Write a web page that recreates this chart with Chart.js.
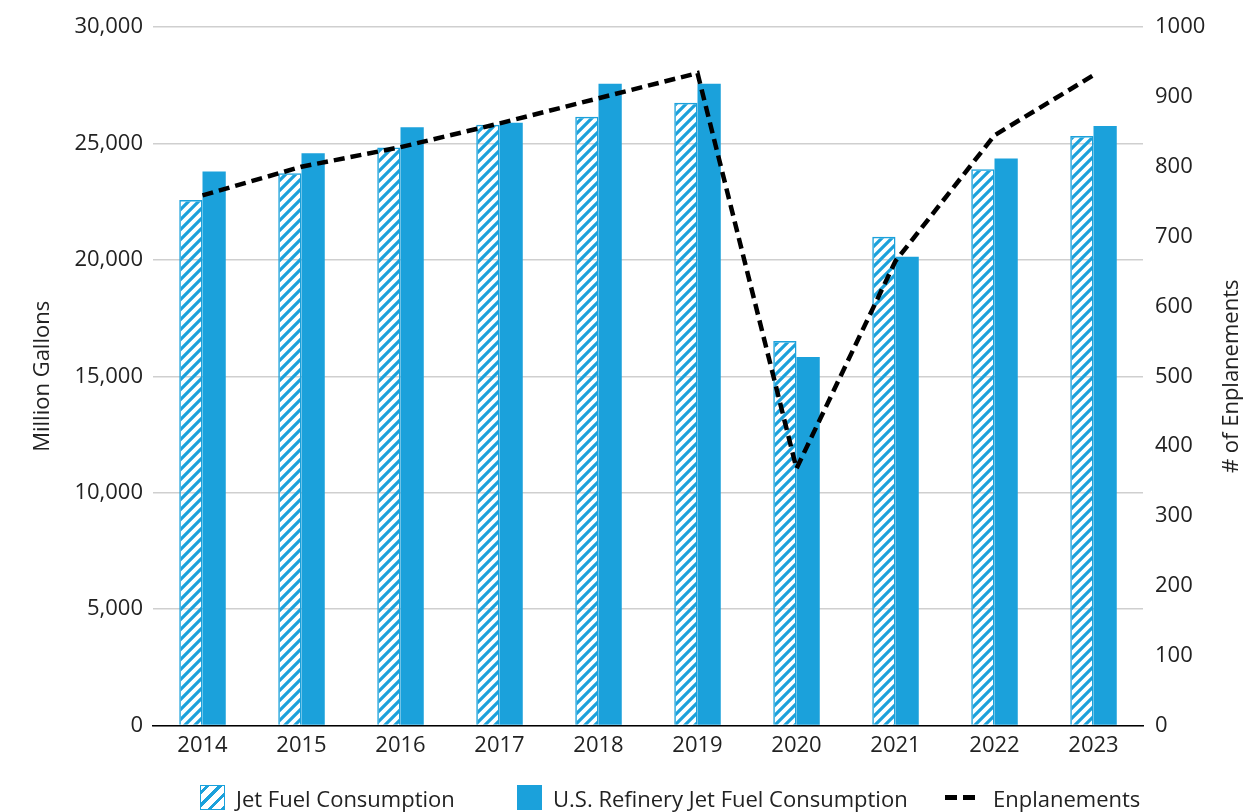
<!DOCTYPE html>
<html>
<head>
<meta charset="utf-8">
<script src="https://cdn.jsdelivr.net/npm/chart.js@4"></script>
<style>
  body { margin: 0; background: #fff; }
  #wrap { position: relative; width: 1248px; height: 812px; }
  #leyenda { position: absolute; left: 0; top: 784px; width: 1248px; height: 27px;
    font: 22px 'Open Sans', sans-serif; color: #222; }
  #leyenda .item { position: absolute; top: 0; height: 27px; display: flex; align-items: center; }
  #leyenda .caja { width: 25px; height: 25px; margin-right: 11px; box-sizing: border-box; }
  #leyenda .rayas { border: 1.5px solid #1ba1db;
    background: repeating-linear-gradient(135deg, #fff 0 3px, #1ba1db 3px 6px, #fff 6px 9px); }
  #leyenda .guion { width: 30px; height: 5px; margin-right: 18px;
    background: linear-gradient(90deg, #000 0 12px, transparent 12px 18px, #000 18px 30px); }
</style>
</head>
<body>
<div id="wrap">
  <canvas id="myChart" width="1248" height="812"></canvas>
  <div id="leyenda"></div>
</div>
<script>
const years = ["2014", "2015", "2016", "2017", "2018", "2019", "2020", "2021", "2022", "2023"];
const jetFuel = [22570, 23720, 24820, 25800, 26150, 26750, 16520, 20990, 23890, 25320];
const refineryJetFuel = [23790, 24580, 25700, 25890, 27560, 27560, 15830, 20130, 24350, 25750];
const enplanements = [759, 800, 828, 862, 898, 934, 368, 665, 845, 931];

const gallonTicks = [0, 5000, 10000, 15000, 20000, 25000, 30000];
const enplanementTicks = [0, 100, 200, 300, 400, 500, 600, 700, 800, 900, 1000];

const azul = "#1ba1db";
const fuente = "'Open Sans', sans-serif";
const tam = 22;

// rayado diagonal para la serie de consumo
const rayado = (() => {
  const c = document.createElement("canvas");
  c.width = 10;
  c.height = 10;
  const g = c.getContext("2d");
  g.strokeStyle = azul;
  g.lineWidth = 3.2;
  g.beginPath();
  g.moveTo(-5, 5); g.lineTo(5, -5);
  g.moveTo(0, 10); g.lineTo(10, 0);
  g.moveTo(5, 15); g.lineTo(15, 5);
  g.stroke();
  return g.createPattern(c, "repeat");
})();

// titulo del eje derecho, leido de abajo hacia arriba
const tituloDerecho = {
  id: "tituloDerecho",
  afterDraw(chart) {
    const ctx = chart.ctx;
    const s = chart.scales.y1;
    ctx.save();
    ctx.translate(s.right - 16, (s.top + s.bottom) / 2);
    ctx.rotate(-Math.PI / 2);
    ctx.font = tam + "px " + fuente;
    ctx.fillStyle = "#222";
    ctx.textAlign = "center";
    ctx.textBaseline = "middle";
    ctx.fillText("# of Enplanements", 0, 0);
    ctx.restore();
  },
};

const sinRelleno = (scale) => {
  scale.paddingTop = 0;
  scale.paddingBottom = 0;
};

const chart = new Chart(document.getElementById("myChart"), {
  data: {
    labels: years,
    datasets: [
      {
        type: "bar",
        label: "Jet Fuel Consumption",
        data: jetFuel,
        backgroundColor: rayado,
        borderColor: azul,
        borderWidth: 1.5,
        yAxisID: "y",
        order: 1,
      },
      {
        type: "bar",
        label: "U.S. Refinery Jet Fuel Consumption",
        data: refineryJetFuel,
        backgroundColor: azul,
        borderWidth: 0,
        yAxisID: "y",
        order: 1,
      },
      {
        type: "line",
        label: "Enplanements",
        data: enplanements,
        borderColor: "#000",
        borderWidth: 4.5,
        borderDash: [11, 6],
        pointRadius: 0,
        tension: 0,
        fill: false,
        yAxisID: "y1",
        order: 0,
      },
    ],
  },
  options: {
    responsive: false,
    animation: false,
    layout: { padding: { top: 27, left: 0, right: 0, bottom: 46 } },
    datasets: {
      bar: { categoryPercentage: 0.47, barPercentage: 1.0 },
    },
    plugins: {
      tooltip: { enabled: false },
      legend: { display: false },
    },
    scales: {
      x: {
        grid: { display: false, drawTicks: false },
        border: { color: "#000", width: 1.5 },
        ticks: { color: "#222", font: { family: fuente, size: tam }, padding: 7 },
      },
      y: {
        position: "left",
        min: 0,
        max: 30000,
        afterBuildTicks: (scale) => { scale.ticks = gallonTicks.map((v) => ({ value: v })); },
        afterFit: (scale) => { scale.width = 153; sinRelleno(scale); },
        grid: { color: "#cfcfcf", lineWidth: 1.5, drawTicks: false },
        border: { display: false },
        ticks: {
          color: "#222",
          font: { family: fuente, size: tam },
          padding: 10,
          callback: (v) => v.toLocaleString("en-US"),
        },
        title: {
          display: true,
          text: "Million Gallons",
          color: "#222",
          font: { family: fuente, size: tam },
          padding: { top: 30, bottom: 0 },
        },
      },
      y1: {
        position: "right",
        min: 0,
        max: 1000,
        afterBuildTicks: (scale) => { scale.ticks = enplanementTicks.map((v) => ({ value: v })); },
        afterFit: (scale) => { scale.width = 105; sinRelleno(scale); },
        grid: { display: false, drawTicks: false },
        border: { display: false },
        ticks: {
          color: "#222",
          font: { family: fuente, size: tam },
          padding: 12,
          callback: (v) => String(v),
        },
      },
    },
  },
  plugins: [tituloDerecho],
});

// leyenda en HTML con las muestras de cada serie
const muestras = ["caja rayas", "caja", "guion"];
const posiciones = [200, 517, 945];
chart.data.datasets.forEach((ds, i) => {
  const item = document.createElement("div");
  item.className = "item";
  item.style.left = posiciones[i] + "px";
  const m = document.createElement("span");
  m.className = muestras[i];
  if (ds.type === "bar" && typeof ds.backgroundColor === "string") m.style.background = ds.backgroundColor;
  const t = document.createElement("span");
  t.textContent = ds.label;
  item.appendChild(m);
  item.appendChild(t);
  document.getElementById("leyenda").appendChild(item);
});
</script>
</body>
</html>
